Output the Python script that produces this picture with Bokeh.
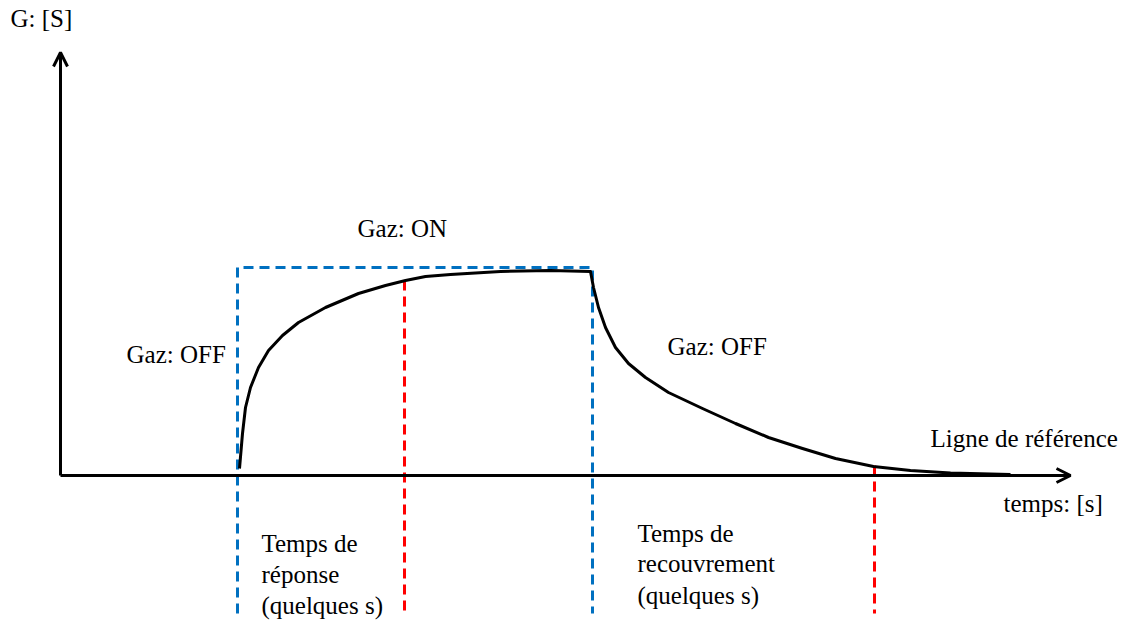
from bokeh.plotting import figure
from bokeh.models import Range1d, Arrow, OpenHead
from bokeh.core.properties import value
from bokeh.embed import file_html
from bokeh.resources import INLINE

# --- data (time in s, conductance in S, schematic units) ---
rise_t = [17.9, 18.2, 18.5, 19.0, 19.8, 20.8, 22.2, 23.8, 26.5, 29.8, 32.5, 34.5, 36.5, 39.0, 44.0, 49.0, 53.0]
rise_g = [0.7, 4.2, 6.8, 8.8, 10.8, 12.5, 14.0, 15.3, 16.8, 18.2, 19.0, 19.5, 19.9, 20.1, 20.4, 20.5, 20.4]
fall_t = [53.3, 53.8, 54.5, 55.5, 56.8, 58.5, 60.8, 64.2, 67.5, 70.8, 74.2, 77.5, 81.3, 85.0, 89.0, 95.0]
fall_g = [18.8, 16.8, 14.8, 12.8, 11.2, 9.8, 8.3, 6.7, 5.2, 3.8, 2.7, 1.7, 0.9, 0.5, 0.25, 0.1]

t_gas_on = 17.7
t_response = 34.4
t_gas_off = 53.2
t_recovery = 81.4
g_on_level = 20.8
g_at_response = 19.5
g_at_recovery = 1.0
t_axis_end = 101.0
g_axis_end = 42.3
bottom = -13.8

FONT = value("Liberation Serif")
FS = "25px"
BLUE = "#0070C0"
RED = "#FF0000"

p = figure(width=1126, height=621, output_backend="svg", toolbar_location=None,
           x_range=Range1d(-6.0, 106.6), y_range=Range1d(-14.6, 47.5),
           x_axis_type=None, y_axis_type=None, min_border=0)
p.outline_line_color = None
p.xgrid.visible = False
p.ygrid.visible = False
p.background_fill_color = "white"

# dashed blue "gas on" box
p.line([t_gas_on, t_gas_on, t_gas_off, t_gas_off], [bottom, g_on_level, g_on_level, bottom],
       line_color=BLUE, line_width=3, line_dash="10 6")
# red dashed markers
p.line([t_response, t_response], [g_at_response, bottom], line_color=RED, line_width=3, line_dash="10 6")
p.line([t_recovery, t_recovery], [g_at_recovery, bottom], line_color=RED, line_width=3, line_dash="10 6")

# axes with open arrow heads
p.add_layout(Arrow(end=OpenHead(size=14, line_width=3, line_color="black"),
                   x_start=0, y_start=0, x_end=0, y_end=g_axis_end, line_width=3, line_color="black"))
p.add_layout(Arrow(end=OpenHead(size=14, line_width=3, line_color="black"),
                   x_start=0, y_start=0, x_end=t_axis_end, y_end=0, line_width=3, line_color="black"))

# response curve
p.line(rise_t + fall_t, rise_g + fall_g, line_color="black", line_width=3, line_join="round")

# texts
labels = [
    ("G: [S]", -5.0, 45.7),
    ("Gaz: ON", 29.7, 24.7),
    ("Gaz: OFF", 6.6, 12.1),
    ("Gaz: OFF", 60.7, 12.9),
    ("Ligne de référence", 87.0, 3.7),
    ("temps: [s]", 94.3, -2.8),
    ("Temps de", 20.1, -6.8),
    ("réponse", 20.1, -9.9),
    ("(quelques s)", 20.1, -13.0),
    ("Temps de", 57.7, -5.8),
    ("recouvrement", 57.7, -8.8),
    ("(quelques s)", 57.7, -12.0),
]
p.text(x=[l[1] for l in labels], y=[l[2] for l in labels], text=[l[0] for l in labels],
       text_font=FONT, text_font_size=FS, text_baseline="middle", text_align="left",
       text_color="black")

open("out.html", "w").write(file_html(p, INLINE))
